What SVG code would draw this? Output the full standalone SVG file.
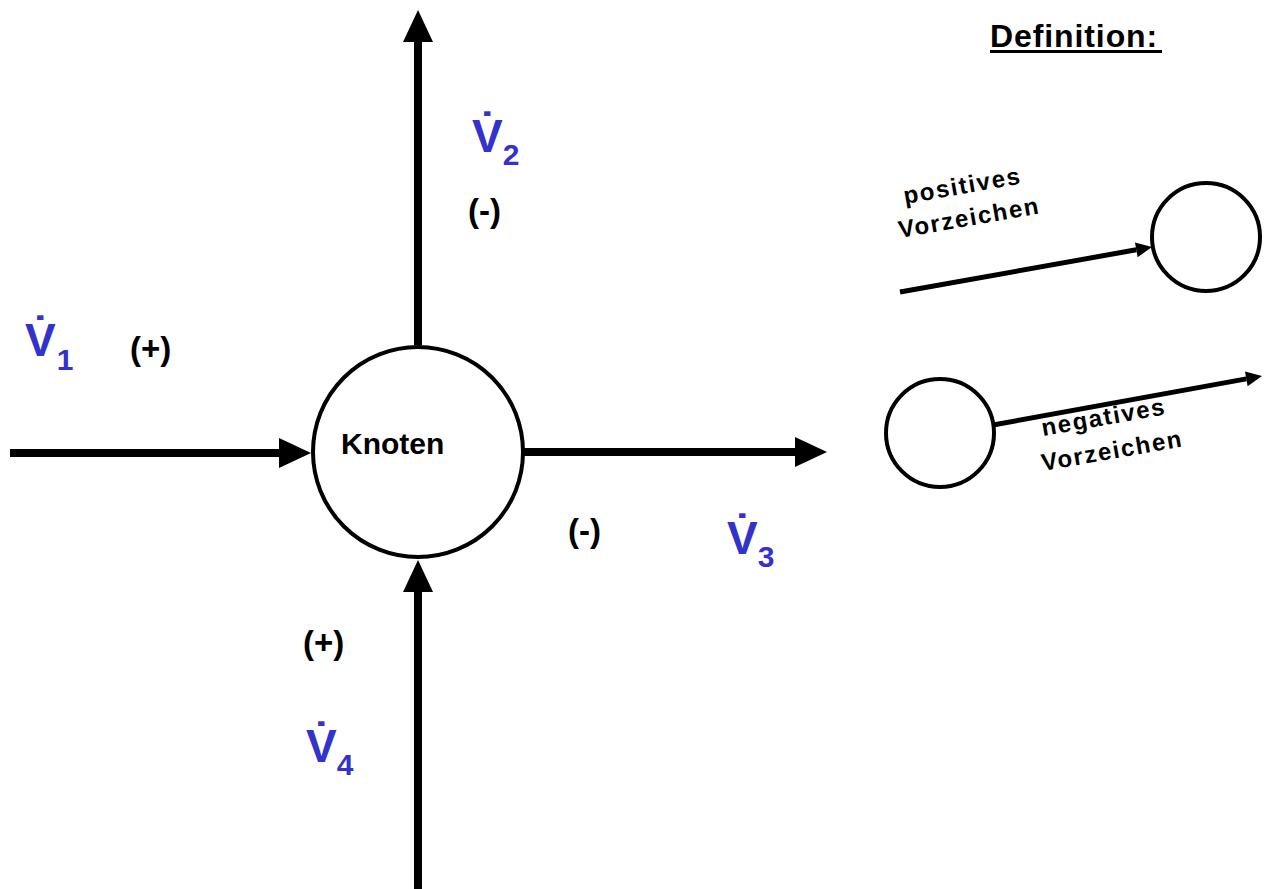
<svg xmlns="http://www.w3.org/2000/svg" width="1265" height="889" viewBox="0 0 1265 889">
<style>
.t{font-family:"Liberation Sans",Arial,sans-serif;font-weight:bold;fill:#000}
.v{font-family:"Liberation Sans",Arial,sans-serif;font-weight:bold;fill:#3333CC;font-size:46px}
.sub{font-size:30px}
.sg{font-size:33px}
.lbl{font-size:24px;letter-spacing:1.7px}
.big{stroke:#000;stroke-width:8;fill:none}
.small{stroke:#000;stroke-width:5;fill:none}
.node{fill:#fff;stroke:#000;stroke-width:4}
</style>
<defs>
<marker id="bh" markerUnits="userSpaceOnUse" markerWidth="33" markerHeight="31" refX="0" refY="15" orient="auto" overflow="visible">
<path d="M0,0 L32,15 L0,30 z" fill="#000"/>
</marker>
<marker id="sh" markerUnits="userSpaceOnUse" markerWidth="17" markerHeight="16" refX="0" refY="7.5" orient="auto" overflow="visible">
<path d="M0,0 L16,7.5 L0,15 z" fill="#000"/>
</marker>
</defs>
<rect width="1265" height="889" fill="#fff"/>
<g id="connectors">
<line class="big" x1="10" y1="453" x2="279" y2="453" marker-end="url(#bh)"/>
<line class="big" x1="418" y1="345" x2="418" y2="42" marker-end="url(#bh)"/>
<line class="big" x1="418" y1="889" x2="418" y2="592" marker-end="url(#bh)"/>
<line class="big" x1="522" y1="452" x2="795" y2="452" marker-end="url(#bh)"/>
<line class="small" x1="900" y1="292" x2="1136.3" y2="249.8" marker-end="url(#sh)"/>
<line class="small" x1="993" y1="425" x2="1246.3" y2="378.9" marker-end="url(#sh)"/>
</g>
<g id="knoten">
<circle class="node" cx="418" cy="452" r="105"/>
<text class="t" x="341" y="454" font-size="30">Knoten</text>
</g>
<g id="def-pos-node">
<circle class="node" cx="1206" cy="237" r="54" stroke-width="3.5"/>
</g>
<g id="def-neg-node">
<circle class="node" cx="940" cy="433" r="54" stroke-width="3.5"/>
</g>
<g id="labels">
<text class="t" x="990" y="47" font-size="32" letter-spacing="0.9">Definition:</text>
<rect x="990" y="50" width="172" height="3" fill="#000"/>
<text class="v" x="25" y="356">V̇<tspan class="sub" dx="1" dy="14">1</tspan></text>
<text class="v" x="472" y="152">V̇<tspan class="sub" dx="0" dy="13">2</tspan></text>
<text class="v" x="727" y="554">V̇<tspan class="sub" dx="0" dy="13">3</tspan></text>
<text class="v" x="306" y="762">V̇<tspan class="sub" dx="0" dy="13">4</tspan></text>
<text class="t sg" x="130" y="360">(+)</text>
<text class="t sg" x="468" y="222">(-)</text>
<text class="t sg" x="568" y="542">(-)</text>
<text class="t sg" x="303" y="654">(+)</text>
<text class="t lbl" x="905" y="204" transform="rotate(-10 905 204)">positives</text>
<text class="t lbl" x="900" y="238" transform="rotate(-10 900 238)">Vorzeichen</text>
<text class="t lbl" x="1043" y="436" transform="rotate(-10 1043 436)">negatives</text>
<text class="t lbl" x="1043" y="471" transform="rotate(-10 1043 471)">Vorzeichen</text>
</g>
</svg>
